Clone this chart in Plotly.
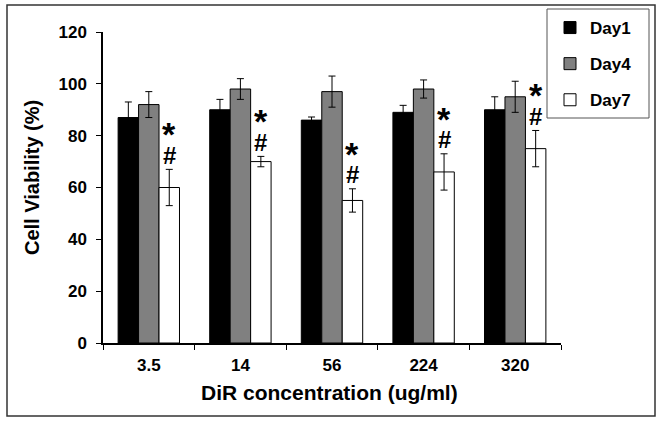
import plotly.graph_objects as go

categories = ["3.5", "14", "56", "224", "320"]
series_names = ["Day1", "Day4", "Day7"]
day1 = [87, 90, 86, 89, 90]
day1_err = [6, 4, 1.2, 2.7, 5]
day4 = [92, 98, 97, 98, 95]
day4_err = [5, 4, 6, 3.5, 6]
day7 = [60, 70, 55, 66, 75]
day7_err = [7, 2, 4.5, 7, 7]
colors = ["#000000", "#808080", "#ffffff"]

FONT = "Arial, 'Liberation Sans', sans-serif"
W, H = 662, 424
L, R, T, B = 103, 101, 32, 81
pw, ph = W - L - R, H - T - B

def px(x):
    return (x - L) / pw

def py(y):
    return (H - B - y) / ph

bargap = 0.33
fig = go.Figure()
for name, vals, errs, col in zip(series_names, [day1, day4, day7], [day1_err, day4_err, day7_err], colors):
    fig.add_trace(go.Bar(
        x=categories, y=vals, name="<b>" + name + "</b>", legendgroup=name,
        marker=dict(color=col, line=dict(color="#000000", width=1)),
        error_y=dict(type="data", array=errs, color="#000000", thickness=1, width=3.5),
    ))

annotations = []
off = (1 - bargap) / 3
for i, (v, e) in enumerate(zip(day7, day7_err)):
    top = v + e
    annotations.append(dict(x=i + off, y=top, xref="x", yref="y", text="<b>#</b>", showarrow=False,
                            yanchor="middle", yshift=14, font=dict(family=FONT, size=24, color="#000")))
    annotations.append(dict(x=i + off, y=top, xref="x", yref="y", text="<b>*</b>", showarrow=False,
                            yanchor="middle", yshift=35, font=dict(family=FONT, size=34, color="#000")))

annotations.append(dict(x=px(32), y=py(178), xref="paper", yref="paper", text="<b>Cell Viability (%)</b>",
                        textangle=-90, showarrow=False, xanchor="center", yanchor="middle",
                        font=dict(family=FONT, size=20, color="#000")))
annotations.append(dict(x=px(329), y=py(392), xref="paper", yref="paper", text="<b>DiR concentration (ug/ml)</b>",
                        showarrow=False, xanchor="center", yanchor="middle",
                        font=dict(family=FONT, size=21, color="#000")))

shapes = [
    dict(type="rect", xref="paper", yref="paper", x0=px(7), x1=px(655), y0=py(416), y1=py(5),
         line=dict(color="#333333", width=1.5), fillcolor="rgba(0,0,0,0)", layer="below"),
    dict(type="rect", xref="paper", yref="paper", x0=px(547), x1=px(649), y0=py(118), y1=py(9),
         line=dict(color="#555555", width=1), fillcolor="#ffffff", layer="above"),
]

fig.update_layout(
    width=W, height=H,
    margin=dict(l=L, r=R, t=T, b=B, autoexpand=False),
    paper_bgcolor="#ffffff", plot_bgcolor="#ffffff",
    barmode="group", bargap=bargap, bargroupgap=0,
    font=dict(family=FONT, color="#000000"),
    showlegend=True,
    legend=dict(x=px(550), y=py(10), xanchor="left", yanchor="top", bgcolor="rgba(0,0,0,0)",
                borderwidth=0, font=dict(family=FONT, size=17, color="#000"),
                tracegroupgap=11, traceorder="grouped"),
    xaxis=dict(type="category", showline=True, linecolor="#000", linewidth=1.5,
               ticks="outside", tickson="boundaries", ticklen=5, tickcolor="#000", tickwidth=1,
               showgrid=False, zeroline=False,
               tickfont=dict(family=FONT, size=17, color="#000"),
               tickprefix="<b>", ticksuffix="</b>", ticklabelstandoff=6),
    yaxis=dict(range=[0, 120], tick0=0, dtick=20, showline=True, linecolor="#000", linewidth=1.5,
               ticks="outside", ticklen=5, tickcolor="#000", tickwidth=1,
               showgrid=False, zeroline=False,
               tickfont=dict(family=FONT, size=17, color="#000"),
               tickprefix="<b>", ticksuffix="</b>", ticklabelstandoff=6),
    annotations=annotations,
    shapes=shapes,
)

fig.write_html("out.html", config={"displayModeBar": False},
               post_script="document.body.style.margin='0px';")
